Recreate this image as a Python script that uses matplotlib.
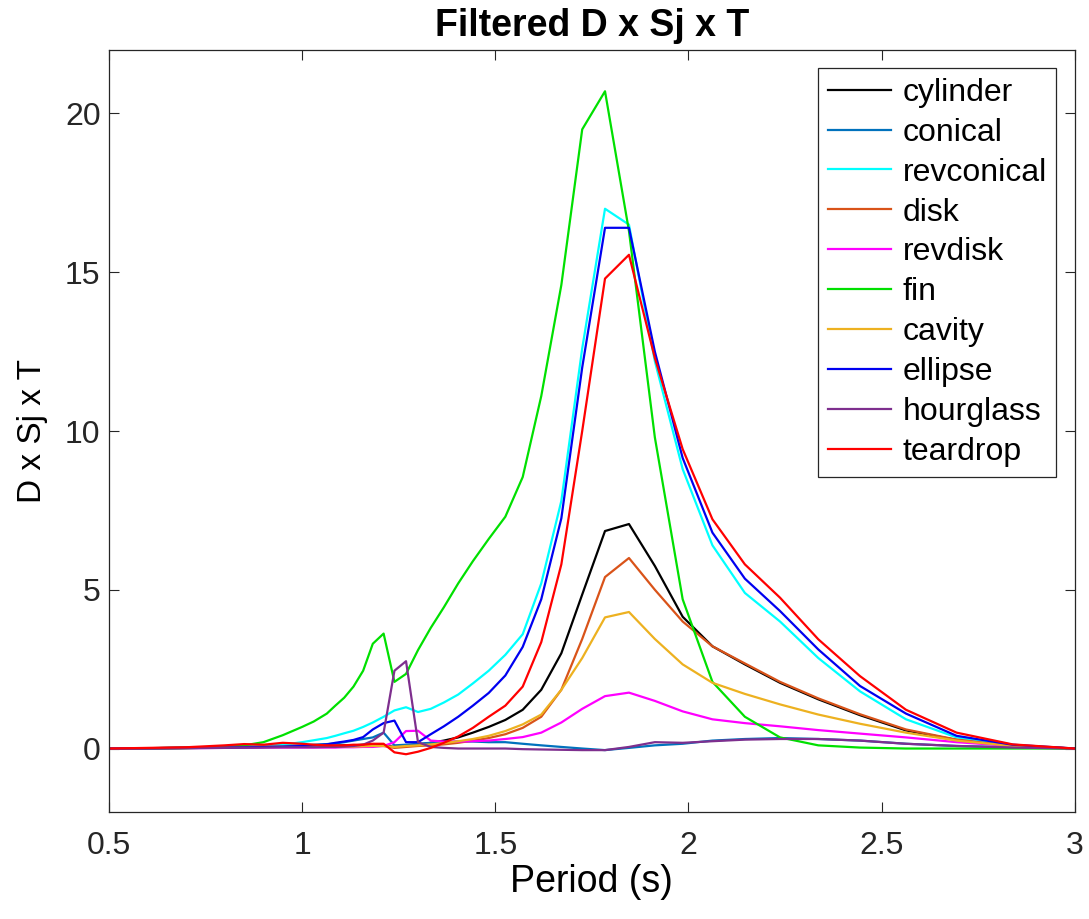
import matplotlib
matplotlib.use("Agg")
import matplotlib.pyplot as plt

plt.rcParams.update({
    "font.family": ["Liberation Sans", "DejaVu Sans"],
    "axes.edgecolor": "#262626",
    "xtick.color": "#262626",
    "ytick.color": "#262626",
})

# period grid (s)
period = [0.5, 0.6, 0.7, 0.8, 0.85, 0.9, 0.95, 1.0, 1.03, 1.064, 1.086, 1.109,
          1.133, 1.158, 1.183, 1.211, 1.239, 1.269, 1.300, 1.333, 1.367, 1.404,
          1.442, 1.483, 1.526, 1.571, 1.619, 1.671, 1.725, 1.784, 1.846, 1.913,
          1.985, 2.062, 2.146, 2.237, 2.336, 2.444, 2.563, 2.694, 2.839, 3.0]

cylinder = [0, 0.01, 0.03, 0.05, 0.06, 0.07, 0.08, 0.08, 0.08, 0.08, 0.09, 0.1,
            0.1, 0.12, 0.12, 0.1, 0.05, 0.08, 0.12, 0.18, 0.25, 0.35,
            0.5, 0.68, 0.9, 1.22, 1.85, 3.0, 4.85, 6.85, 7.07, 5.75,
            4.15, 3.22, 2.65, 2.07, 1.55, 1.05, 0.57, 0.27, 0.08, 0]
conical = [0, 0.01, 0.02, 0.04, 0.05, 0.06, 0.08, 0.1, 0.12, 0.14, 0.16, 0.2,
           0.25, 0.3, 0.35, 0.5, 0.1, 0.12, 0.15, 0.18, 0.2, 0.22,
           0.22, 0.2, 0.2, 0.15, 0.1, 0.05, 0.0, -0.05, 0.02, 0.1,
           0.15, 0.25, 0.3, 0.33, 0.3, 0.25, 0.15, 0.08, 0.04, 0]
revconical = [0, 0.01, 0.02, 0.04, 0.06, 0.08, 0.12, 0.2, 0.26, 0.33, 0.4, 0.48,
              0.56, 0.68, 0.82, 1.0, 1.2, 1.3, 1.15, 1.25, 1.45, 1.7,
              2.05, 2.45, 2.95, 3.6, 5.2, 7.8, 12.6, 17.0, 16.5, 12.2,
              8.8, 6.4, 4.9, 4.0, 2.85, 1.8, 0.92, 0.35, 0.1, 0]
disk = [0, 0.01, 0.02, 0.04, 0.05, 0.06, 0.06, 0.06, 0.06, 0.06, 0.06, 0.07,
        0.08, 0.1, 0.1, 0.08, 0.02, 0.05, 0.08, 0.1, 0.13, 0.18,
        0.25, 0.33, 0.45, 0.65, 1.0, 1.85, 3.45, 5.4, 6.0, 5.0,
        4.0, 3.22, 2.68, 2.1, 1.58, 1.08, 0.6, 0.28, 0.08, 0]
revdisk = [0, 0.0, 0.01, 0.02, 0.02, 0.03, 0.03, 0.03, 0.03, 0.03, 0.03, 0.04,
           0.04, 0.05, 0.05, 0.08, 0.2, 0.55, 0.56, 0.25, 0.22, 0.22,
           0.23, 0.25, 0.3, 0.36, 0.5, 0.82, 1.25, 1.65, 1.76, 1.5,
           1.17, 0.92, 0.8, 0.7, 0.58, 0.47, 0.35, 0.2, 0.08, 0]
fin = [0, 0.0, 0.01, 0.04, 0.1, 0.2, 0.42, 0.68, 0.85, 1.1, 1.35, 1.6,
       1.95, 2.45, 3.3, 3.62, 2.1, 2.35, 3.1, 3.8, 4.45, 5.2,
       5.9, 6.6, 7.3, 8.55, 11.1, 14.6, 19.5, 20.7, 16.3, 9.8,
       4.7, 2.1, 1.0, 0.35, 0.1, 0.03, 0.0, 0.0, 0.0, 0]
cavity = [0, 0.01, 0.02, 0.03, 0.04, 0.05, 0.05, 0.05, 0.05, 0.05, 0.05, 0.06,
          0.06, 0.07, 0.08, 0.08, 0.05, 0.08, 0.1, 0.13, 0.17, 0.23,
          0.3, 0.4, 0.55, 0.76, 1.07, 1.85, 2.85, 4.13, 4.3, 3.45,
          2.65, 2.07, 1.72, 1.39, 1.07, 0.78, 0.5, 0.25, 0.08, 0]
ellipse = [0, 0.01, 0.02, 0.03, 0.04, 0.05, 0.06, 0.08, 0.1, 0.13, 0.18, 0.22,
           0.27, 0.36, 0.6, 0.8, 0.88, 0.2, 0.2, 0.45, 0.7, 1.0,
           1.35, 1.75, 2.3, 3.2, 4.7, 7.25, 12.0, 16.4, 16.4, 12.5,
           9.15, 6.8, 5.35, 4.33, 3.12, 1.97, 1.1, 0.4, 0.12, 0]
hourglass = [0, 0.0, 0.01, 0.02, 0.03, 0.03, 0.04, 0.04, 0.04, 0.05, 0.05, 0.06,
             0.08, 0.12, 0.25, 0.5, 2.45, 2.75, 0.2, 0.05, 0.02, 0.0,
             0.0, 0.0, 0.0, -0.02, -0.03, -0.04, -0.05, -0.05, 0.05, 0.2,
             0.18, 0.23, 0.28, 0.3, 0.3, 0.25, 0.15, 0.08, 0.03, 0]
teardrop = [0, 0.02, 0.04, 0.1, 0.14, 0.12, 0.18, 0.15, 0.12, 0.1, 0.1, 0.1,
            0.12, 0.12, 0.15, 0.15, -0.12, -0.18, -0.1, 0.02, 0.18, 0.38,
            0.65, 1.0, 1.35, 1.95, 3.35, 5.8, 10.0, 14.8, 15.55, 12.3,
            9.43, 7.22, 5.8, 4.75, 3.44, 2.28, 1.22, 0.5, 0.13, 0]

series = [
    ("cylinder", cylinder, "black"),
    ("conical", conical, "#0072BD"),
    ("revconical", revconical, "cyan"),
    ("disk", disk, "#D95319"),
    ("revdisk", revdisk, "magenta"),
    ("fin", fin, "#00E000"),
    ("cavity", cavity, "#EDB120"),
    ("ellipse", ellipse, "#0000F0"),
    ("hourglass", hourglass, "#7E2F8E"),
    ("teardrop", teardrop, "red"),
]

fig = plt.figure(figsize=(10.89, 9.19), dpi=100)
ax = fig.add_axes([0.100, 0.1164, 0.887, 0.8292])

for name, vals, col in series:
    ax.plot(period, vals, color=col, lw=1.6, label=name)

ax.set_xlim(0.5, 3)
ax.set_ylim(-2, 22)
ax.set_xticks([0.5, 1, 1.5, 2, 2.5, 3])
ax.set_xticklabels(["0.5", "1", "1.5", "2", "2.5", "3"])
ax.set_yticks([0, 5, 10, 15, 20])
ax.tick_params(direction="in", top=True, right=True, labelsize=23,
               length=7, width=0.8)
ax.tick_params(axis="x", pad=14)
ax.tick_params(axis="y", pad=6)
for s in ax.spines.values():
    s.set_linewidth(0.9)

ax.set_xlabel("Period (s)", fontsize=27, labelpad=2)
ax.set_ylabel("D x Sj x T", fontsize=24, labelpad=12)
ax.set_title("Filtered D x Sj x T", fontsize=27, fontweight="bold", pad=10)

leg = ax.legend(loc="upper right", fontsize=23, handlelength=2.0,
                handletextpad=0.35, labelspacing=0.31, borderpad=0.3,
                borderaxespad=0, fancybox=False, framealpha=1,
                edgecolor="#262626", bbox_to_anchor=(0.981, 0.976))
leg.get_frame().set_linewidth(0.9)

fig.savefig("out.png", dpi=100)
